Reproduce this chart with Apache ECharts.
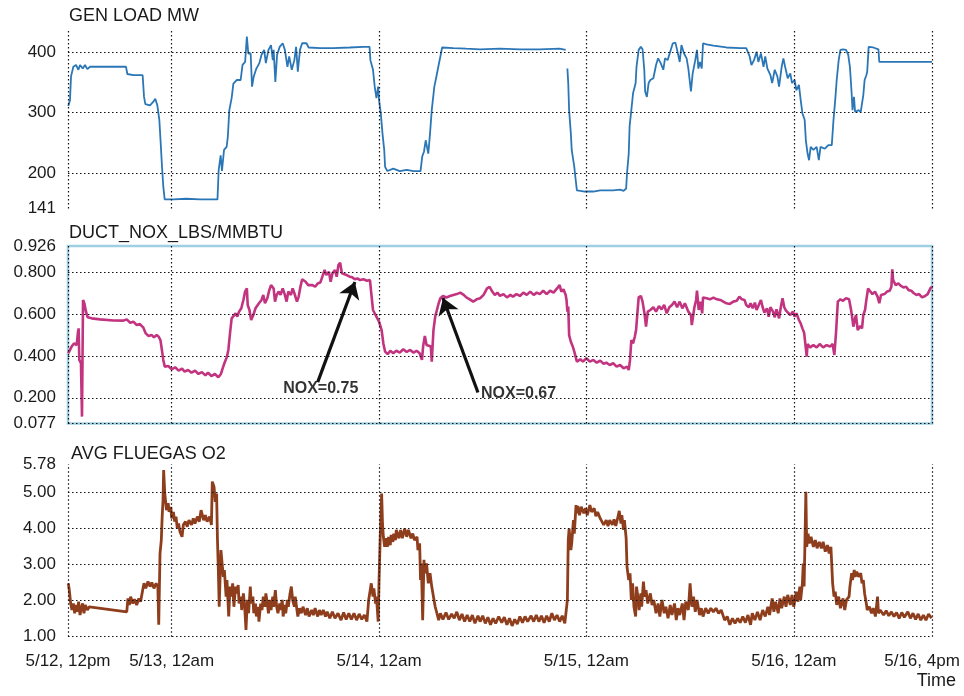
<!DOCTYPE html>
<html>
<head>
<meta charset="utf-8">
<title>Unit trend</title>
<script src="https://cdn.jsdelivr.net/npm/echarts@6/dist/echarts.min.js"></script>
<style>
  * { margin: 0; padding: 0; }
  body { background: #ffffff; }
  #main { width: 964px; height: 696px; }
</style>
</head>
<body>
<div id="main"></div>
<script>
// hours after 5/12 12pm
var tickHours = [0, 12, 36, 60, 84, 100];
var tickLabels = ['5/12, 12pm', '5/13, 12am', '5/14, 12am', '5/15, 12am', '5/16, 12am', '5/16, 4pm'];

var loadTicks = [141, 200, 300, 400];
var noxTicks = [0.077, 0.2, 0.4, 0.6, 0.8, 0.926];
var o2Ticks = [1, 2, 3, 4, 5, 5.78];

// GEN LOAD MW  [hour, MW]
var genLoad = [
  [0.04,311],[0.23,321],[0.35,360],[0.62,376],[0.93,379],[1.2,371],[1.39,379],[1.7,373],[1.97,379],[2.24,372],
  [2.55,376],[3.7,376],[5.25,376],[6.71,376],[6.87,364],[7.56,362],[8.64,362],[8.8,326],[8.95,314],[9.49,312],
  [9.88,318],[10.1,323],[10.34,312],[10.57,288],[10.73,249],[10.88,210],[11.03,177],[11.19,156],[12.19,156],[13.7,157],
  [15.3,156],[16.8,156],[17.3,156],[17.44,205],[17.67,229],[17.82,203],[18.06,238],[18.36,243],[18.5,260],[18.67,304],
  [18.94,324],[19.14,348],[19.52,354],[19.98,354],[20.2,379],[20.5,384],[20.7,426],[20.87,398],[21.14,398],[21.3,343],
  [21.5,360],[21.8,373],[22.15,382],[22.4,396],[22.7,404],[22.9,382],[23.2,404],[23.5,412],[23.7,387],[23.8,404],
  [24.0,351],[24.2,396],[24.5,409],[24.85,415],[25.1,404],[25.4,376],[25.6,393],[25.9,371],[26.2,387],[26.4,409],
  [26.6,368],[26.85,404],[27.1,415],[27.6,415],[27.85,408],[29.2,407],[30.7,407],[32.6,408],[34.2,409],[34.9,409],
  [35.0,387],[35.3,371],[35.5,343],[35.7,324],[35.9,343],[36.0,321],[36.2,299],[36.4,265],[36.6,238],[36.7,210],
  [36.96,203],[37.65,207],[38.4,203],[39.2,205],[40.0,203],[40.8,203],[41.0,227],[41.2,235],[41.4,254],[41.7,232],
  [41.9,265],[42.1,304],[42.4,343],[42.6,357],[42.9,379],[43.1,393],[43.3,408],[44.6,407],[46.1,406],[47.7,405],
  [50.0,406],[52.3,405],[54.6,405],[56.9,406],[57.6,404],[57.7,'-'],[57.8,373],[57.9,348],[58.0,304],[58.2,265],
  [58.3,238],[58.6,210],[58.7,196],[58.9,171],[59.3,170],[59.8,169],[60.0,172],[60.8,169],[61.6,171],[63.1,171],
  [63.9,172],[64.3,170],[64.6,174],[64.7,199],[64.9,232],[65.0,277],[65.2,304],[65.4,332],[65.7,349],[65.8,376],
  [66.05,404],[66.3,409],[66.5,405],[66.7,371],[66.8,335],[67.0,326],[67.2,349],[67.4,354],[67.75,357],[68.06,379],
  [68.3,390],[68.6,382],[68.9,371],[69.1,390],[69.4,387],[69.7,401],[70.0,415],[70.3,416],[70.5,404],[70.8,384],
  [71.0,412],[71.3,398],[71.6,390],[71.8,373],[72.1,335],[72.3,365],[72.6,387],[72.8,404],[72.96,373],[73.15,384],
  [73.35,373],[73.5,415],[73.9,413],[74.7,411],[76.2,408],[77.8,407],[78.5,407],[78.9,393],[79.1,379],[79.4,387],
  [79.7,401],[79.9,384],[80.2,398],[80.5,376],[80.7,393],[80.95,373],[81.3,362],[81.5,349],[81.8,371],[82.1,360],
  [82.3,343],[82.6,376],[82.8,390],[83.0,376],[83.3,357],[83.6,365],[83.8,349],[84.1,354],[84.3,337],[84.6,346],
  [84.8,321],[85.0,299],[85.26,288],[85.4,254],[85.6,232],[85.77,221],[85.96,243],[86.27,238],[86.65,243],[86.9,221],
  [87.1,243],[87.6,240],[88.0,246],[88.4,246],[88.6,288],[88.8,321],[88.97,354],[89.2,387],[89.4,404],[89.7,405],
  [90.05,404],[90.3,396],[90.5,376],[90.7,332],[90.8,304],[90.97,326],[91.1,301],[91.5,304],[91.75,301],[91.9,304],
  [92.05,329],[92.2,354],[92.4,362],[92.5,368],[92.67,409],[93.2,408],[93.8,405],[93.9,384],[95.1,384],[97.1,384],
  [100,384]
];

// DUCT_NOX_LBS/MMBTU  [hour, lb/MMBtu]
var ductNox = [
  [0.04,0.413],[0.23,0.405],[0.42,0.445],[0.69,0.46],[1.0,0.452],[1.16,0.516],[1.23,0.532],[1.31,0.381],[1.5,0.365],[1.62,0.11],
  [1.74,0.668],[1.89,0.652],[2.08,0.612],[2.28,0.585],[2.74,0.58],[3.7,0.575],[5.25,0.57],[6.4,0.569],[6.8,0.575],[7.2,0.559],
  [7.56,0.564],[7.95,0.548],[8.3,0.553],[8.7,0.537],[9.0,0.508],[9.3,0.496],[9.7,0.5],[9.95,0.489],[10.26,0.5],[10.5,0.492],
  [10.7,0.476],[10.84,0.437],[11.03,0.381],[11.2,0.349],[11.6,0.352],[12.0,0.336],[12.4,0.346],[12.8,0.33],[13.2,0.339],[13.5,0.325],
  [13.9,0.333],[14.3,0.32],[14.7,0.33],[15.1,0.314],[15.5,0.323],[15.9,0.307],[16.2,0.32],[16.6,0.304],[17.0,0.314],[17.4,0.298],
  [17.7,0.314],[17.9,0.341],[18.1,0.365],[18.4,0.397],[18.56,0.429],[18.75,0.508],[18.94,0.58],[19.1,0.588],[19.4,0.604],[19.6,0.588],
  [19.8,0.612],[20.06,0.628],[20.3,0.668],[20.5,0.708],[20.7,0.723],[20.8,0.644],[21.0,0.62],[21.2,0.572],[21.45,0.596],[21.7,0.628],
  [21.9,0.636],[22.1,0.652],[22.4,0.668],[22.6,0.692],[22.8,0.652],[23.07,0.676],[23.3,0.715],[23.5,0.739],[23.8,0.723],[23.96,0.66],
  [24.15,0.692],[24.4,0.708],[24.6,0.692],[24.85,0.723],[25.1,0.692],[25.3,0.66],[25.5,0.708],[25.8,0.692],[26.0,0.723],[26.2,0.7],
  [26.5,0.66],[26.7,0.684],[26.9,0.731],[27.1,0.767],[27.3,0.776],[27.5,0.755],[27.8,0.739],[28.0,0.731],[28.3,0.739],[28.6,0.731],
  [28.9,0.747],[29.2,0.751],[29.5,0.787],[29.7,0.811],[29.9,0.787],[30.2,0.803],[30.4,0.755],[30.6,0.795],[30.9,0.811],[31.1,0.779],
  [31.3,0.835],[31.5,0.846],[31.7,0.795],[31.9,0.803],[32.25,0.787],[32.6,0.779],[32.9,0.776],[33.2,0.767],[33.5,0.771],[33.8,0.763],
  [34.2,0.767],[34.6,0.76],[34.95,0.763],[35.1,0.7],[35.3,0.62],[35.6,0.596],[35.8,0.58],[36.0,0.564],[36.3,0.524],[36.5,0.46],
  [36.7,0.421],[37.0,0.409],[37.3,0.425],[37.65,0.413],[38.0,0.425],[38.4,0.416],[38.8,0.432],[39.2,0.419],[39.6,0.429],[40.0,0.416],
  [40.35,0.425],[40.7,0.413],[40.97,0.381],[41.1,0.445],[41.3,0.496],[41.5,0.452],[41.7,0.46],[42.0,0.445],[42.1,0.373],[42.3,0.524],
  [42.5,0.588],[42.7,0.62],[42.9,0.652],[43.1,0.676],[43.4,0.687],[43.8,0.68],[44.2,0.687],[44.6,0.692],[45.0,0.696],[45.4,0.703],
  [45.8,0.692],[46.1,0.68],[46.5,0.671],[46.9,0.66],[47.3,0.671],[47.7,0.676],[48.1,0.692],[48.5,0.723],[48.8,0.731],[49.1,0.708],
  [49.4,0.692],[49.7,0.703],[50.0,0.687],[50.4,0.696],[50.8,0.68],[51.2,0.692],[51.5,0.684],[51.9,0.696],[52.3,0.687],[52.7,0.703],
  [53.1,0.692],[53.5,0.708],[53.9,0.692],[54.25,0.703],[54.6,0.696],[55.0,0.712],[55.4,0.696],[55.8,0.712],[56.2,0.703],[56.6,0.723],
  [56.9,0.739],[57.1,0.708],[57.35,0.719],[57.6,0.692],[57.7,0.668],[57.8,0.612],[57.9,0.636],[58.0,0.5],[58.2,0.468],[58.4,0.448],
  [58.6,0.421],[58.9,0.373],[59.3,0.384],[59.6,0.373],[60.0,0.389],[60.4,0.373],[60.8,0.381],[61.2,0.368],[61.6,0.378],[62.0,0.362],
  [62.3,0.368],[62.7,0.357],[63.1,0.365],[63.5,0.349],[63.9,0.357],[64.3,0.341],[64.7,0.349],[64.9,0.333],[65.05,0.381],[65.2,0.476],
  [65.4,0.46],[65.6,0.492],[65.75,0.524],[65.9,0.604],[66.05,0.68],[66.3,0.687],[66.5,0.66],[66.75,0.596],[66.9,0.54],[67.1,0.612],
  [67.4,0.62],[67.75,0.633],[68.06,0.612],[68.4,0.639],[68.7,0.623],[69.0,0.644],[69.3,0.604],[69.6,0.633],[69.9,0.644],[70.2,0.66],
  [70.5,0.633],[70.8,0.66],[71.1,0.628],[71.4,0.652],[71.8,0.612],[72.1,0.596],[72.2,0.548],[72.5,0.633],[72.7,0.668],[72.8,0.712],
  [73.0,0.62],[73.2,0.66],[73.4,0.604],[73.5,0.68],[73.9,0.676],[74.3,0.671],[74.7,0.679],[75.1,0.671],[75.5,0.668],[75.85,0.66],
  [76.2,0.652],[76.6,0.649],[77.0,0.66],[77.4,0.664],[77.7,0.684],[78.0,0.671],[78.3,0.668],[78.5,0.644],[78.8,0.633],[79.0,0.652],
  [79.25,0.628],[79.5,0.655],[79.7,0.62],[80.0,0.649],[80.2,0.668],[80.4,0.633],[80.6,0.607],[80.9,0.628],[81.1,0.588],[81.3,0.633],
  [81.6,0.612],[81.8,0.585],[82.0,0.623],[82.3,0.58],[82.5,0.633],[82.7,0.676],[82.9,0.633],[83.1,0.617],[83.3,0.623],[83.6,0.596],
  [83.9,0.612],[84.1,0.588],[84.3,0.604],[84.6,0.572],[84.8,0.556],[85.0,0.532],[85.2,0.511],[85.35,0.508],[85.5,0.397],[85.6,0.457],
  [85.9,0.441],[86.27,0.452],[86.65,0.441],[87.0,0.457],[87.4,0.441],[87.8,0.452],[88.2,0.445],[88.5,0.457],[88.7,0.405],[88.9,0.516],
  [89.1,0.66],[89.4,0.671],[89.7,0.664],[90.05,0.676],[90.4,0.671],[90.6,0.628],[90.75,0.588],[90.9,0.54],[91.05,0.572],[91.2,0.596],
  [91.4,0.524],[91.7,0.543],[91.9,0.532],[92.05,0.596],[92.25,0.62],[92.4,0.668],[92.6,0.723],[92.8,0.712],[93.1,0.696],[93.4,0.708],
  [93.7,0.684],[93.9,0.652],[94.1,0.692],[94.5,0.696],[94.8,0.708],[95.1,0.712],[95.3,0.731],[95.4,0.814],[95.5,0.763],[95.8,0.739],
  [96.1,0.747],[96.4,0.735],[96.7,0.728],[97.0,0.731],[97.3,0.715],[97.6,0.712],[97.9,0.7],[98.2,0.692],[98.5,0.696],[98.85,0.68],
  [99.2,0.687],[99.5,0.696],[99.8,0.723],[100,0.731]
];

// AVG FLUEGAS O2  [hour, %]
var fluegasO2 = [
  [0.04,2.48],[0.15,2.29],[0.31,1.92],[0.46,1.74],[0.62,1.92],[0.77,1.65],[0.93,1.88],[1.08,1.69],[1.23,1.97],[1.39,1.6],
  [1.54,1.79],[1.7,1.92],[1.85,1.65],[2.0,1.88],[2.24,1.74],[2.47,1.83],[6.8,1.69],[6.94,2.06],[7.1,1.88],[7.25,2.11],
  [7.5,1.92],[7.7,2.04],[7.95,1.88],[8.2,2.06],[8.4,1.97],[8.64,2.29],[8.8,2.48],[9.0,2.34],[9.26,2.53],[9.5,2.39],
  [9.7,2.5],[9.95,2.34],[10.2,2.48],[10.4,2.39],[10.5,1.33],[10.65,3.31],[10.8,3.68],[10.9,4.33],[11.0,4.79],[11.07,5.62],
  [11.2,4.97],[11.3,4.74],[11.4,4.51],[11.6,4.7],[11.7,4.46],[11.9,4.6],[12.0,4.28],[12.2,4.46],[12.35,4.19],[12.5,4.33],
  [12.65,4.0],[12.8,4.14],[12.96,3.91],[13.2,3.77],[13.35,4.1],[13.6,4.19],[13.8,4.05],[14.0,4.23],[14.3,4.1],[14.5,4.28],
  [14.7,4.14],[14.97,4.33],[15.2,4.19],[15.4,4.51],[15.7,4.23],[15.9,4.37],[16.1,4.19],[16.4,4.33],[16.6,4.1],[16.7,5.3],
  [16.9,5.16],[17.05,4.74],[17.2,4.97],[17.3,3.68],[17.4,2.85],[17.5,1.83],[17.7,3.4],[17.8,3.13],[17.98,2.66],[18.1,2.85],
  [18.3,2.11],[18.4,2.57],[18.6,1.56],[18.75,2.39],[18.9,2.11],[19.06,2.48],[19.2,1.83],[19.4,2.39],[19.5,2.2],[19.7,2.43],
  [19.8,1.92],[20.0,2.11],[20.1,1.74],[20.3,2.2],[20.45,1.83],[20.6,1.19],[20.76,2.02],[20.9,1.65],[21.1,2.39],[21.2,1.92],
  [21.4,2.11],[21.5,1.65],[21.7,1.92],[21.8,1.56],[22.0,1.83],[22.1,1.42],[22.3,1.92],[22.45,1.74],[22.6,2.11],[22.8,1.83],
  [22.9,2.2],[23.07,1.92],[23.2,1.65],[23.4,2.02],[23.5,1.74],[23.7,2.11],[23.8,1.83],[24.0,2.29],[24.15,1.83],[24.3,1.65],
  [24.5,1.92],[24.6,1.74],[24.8,2.02],[24.9,1.56],[25.1,1.88],[25.2,1.65],[25.4,2.02],[25.5,1.83],[25.7,2.2],[25.85,2.39],
  [26.0,2.02],[26.2,1.83],[26.3,2.11],[26.5,1.74],[26.6,1.56],[26.8,1.79],[27.0,1.65],[27.2,1.83],[27.5,1.6],[27.7,1.79],
  [27.9,1.56],[28.2,1.74],[28.4,1.6],[28.6,1.79],[28.9,1.56],[29.1,1.74],[29.3,1.6],[29.55,1.74],[29.8,1.56],[30.0,1.69],
  [30.3,1.51],[30.6,1.69],[30.9,1.51],[31.25,1.65],[31.6,1.46],[31.9,1.67],[32.2,1.48],[32.5,1.65],[32.8,1.48],[33.1,1.65],
  [33.4,1.46],[33.7,1.63],[34.0,1.48],[34.3,1.6],[34.6,1.42],[34.8,2.02],[34.95,2.25],[35.1,2.48],[35.3,2.11],[35.4,2.34],
  [35.6,1.92],[35.7,2.11],[35.9,1.42],[36.0,2.57],[36.15,3.86],[36.3,4.97],[36.4,4.14],[36.5,3.77],[36.65,3.49],[36.8,3.73],
  [36.96,3.49],[37.1,3.77],[37.3,3.54],[37.4,3.82],[37.6,3.63],[37.7,3.86],[37.9,3.68],[38.0,3.96],[38.3,3.73],[38.5,3.96],
  [38.7,3.73],[38.97,4.0],[39.2,3.77],[39.4,3.96],[39.7,3.73],[39.9,3.86],[40.1,3.68],[40.4,3.77],[40.5,3.4],[40.7,3.59],
  [40.8,2.57],[40.9,3.03],[41.05,1.46],[41.2,3.13],[41.3,2.76],[41.5,3.03],[41.7,2.48],[41.9,2.76],[42.1,2.39],[42.3,2.11],
  [42.5,1.83],[42.7,1.65],[42.9,1.46],[43.1,1.65],[43.4,1.48],[43.75,1.67],[44.06,1.48],[44.4,1.63],[44.7,1.51],[45.0,1.69],
  [45.3,1.46],[45.6,1.63],[45.9,1.42],[46.2,1.6],[46.5,1.42],[46.8,1.6],[47.1,1.37],[47.45,1.58],[47.7,1.42],[48.0,1.58],
  [48.3,1.37],[48.6,1.54],[48.9,1.33],[49.2,1.51],[49.5,1.37],[49.85,1.56],[50.2,1.39],[50.5,1.54],[50.8,1.33],[51.1,1.51],
  [51.4,1.3],[51.7,1.48],[52.0,1.35],[52.3,1.56],[52.6,1.39],[52.9,1.56],[53.2,1.42],[53.6,1.58],[53.9,1.42],[54.2,1.6],
  [54.5,1.42],[54.8,1.58],[55.1,1.39],[55.4,1.58],[55.7,1.42],[56.0,1.65],[56.3,1.46],[56.6,1.6],[56.9,1.42],[57.2,1.58],
  [57.5,1.37],[57.8,2.02],[57.9,3.68],[58.0,4.0],[58.2,3.4],[58.3,3.59],[58.5,4.23],[58.6,3.86],[58.8,4.65],[58.9,4.42],
  [59.0,4.62],[59.2,4.37],[59.4,4.6],[59.7,4.42],[59.9,4.56],[60.1,4.37],[60.4,4.65],[60.6,4.46],[60.9,4.56],[61.1,4.34],
  [61.3,4.46],[61.6,4.28],[61.8,4.23],[62.0,4.1],[62.3,4.23],[62.5,4.07],[62.7,4.23],[63.0,4.1],[63.2,4.25],[63.4,4.07],
  [63.7,4.37],[63.8,4.49],[64.0,4.14],[64.1,4.37],[64.3,3.96],[64.4,4.23],[64.6,3.73],[64.7,2.94],[64.9,2.57],[65.05,2.76],
  [65.2,2.02],[65.35,2.48],[65.5,1.83],[65.7,1.56],[65.8,2.39],[66.0,2.02],[66.1,1.74],[66.3,2.2],[66.4,1.83],[66.6,2.53],
  [66.75,2.11],[66.9,2.29],[67.1,1.92],[67.4,2.2],[67.6,1.88],[67.8,2.02],[68.06,1.65],[68.3,1.92],[68.5,1.56],[68.75,2.02],
  [69.0,1.65],[69.2,1.83],[69.45,1.51],[69.7,1.88],[69.9,1.6],[70.2,1.92],[70.4,1.46],[70.6,1.79],[70.8,1.6],[71.1,1.92],
  [71.3,1.46],[71.5,1.97],[71.8,1.74],[72.0,2.48],[72.2,1.83],[72.4,2.11],[72.6,1.69],[72.8,2.02],[73.1,1.6],[73.3,1.79],
  [73.5,1.56],[73.8,1.79],[74.1,1.65],[74.4,1.79],[74.7,1.69],[75.0,1.79],[75.3,1.65],[75.6,1.74],[76.0,1.46],[76.3,1.56],
  [76.6,1.33],[76.9,1.51],[77.2,1.37],[77.5,1.51],[77.8,1.39],[78.1,1.56],[78.4,1.39],[78.7,1.6],[79.0,1.33],[79.2,1.65],
  [79.5,1.46],[79.8,1.69],[80.1,1.46],[80.4,1.74],[80.7,1.56],[81.0,1.83],[81.2,1.6],[81.5,2.06],[81.7,1.69],[81.9,1.97],
  [82.2,1.65],[82.4,2.06],[82.6,1.79],[82.9,2.11],[83.1,1.83],[83.3,2.16],[83.6,1.88],[83.8,2.16],[84.0,1.83],[84.3,2.25],
  [84.5,1.97],[84.7,2.39],[84.8,2.02],[85.0,2.48],[85.1,3.03],[85.2,2.39],[85.3,3.68],[85.4,5.02],[85.5,3.49],[85.66,3.86],
  [85.8,3.59],[86.0,3.77],[86.27,3.49],[86.5,3.68],[86.7,3.45],[86.95,3.63],[87.2,3.45],[87.4,3.63],[87.65,3.36],[87.9,3.54],
  [88.1,3.31],[88.3,3.49],[88.5,2.48],[88.66,2.11],[88.8,2.25],[88.97,1.88],[89.2,2.11],[89.4,1.79],[89.7,2.06],[89.9,1.74],
  [90.1,2.02],[90.4,2.11],[90.5,2.39],[90.7,2.76],[90.8,2.57],[91.0,2.85],[91.1,2.66],[91.3,2.8],[91.5,2.66],[91.75,2.76],
  [91.9,2.48],[92.05,2.57],[92.2,2.2],[92.4,1.92],[92.5,1.74],[92.75,1.83],[93.0,1.65],[93.2,1.79],[93.45,1.56],[93.7,2.11],
  [93.8,1.65],[94.0,1.74],[94.4,1.6],[94.7,1.72],[95.0,1.58],[95.3,1.69],[95.6,1.56],[95.9,1.67],[96.2,1.51],[96.5,1.67],
  [96.8,1.54],[97.2,1.69],[97.5,1.51],[97.8,1.65],[98.1,1.48],[98.4,1.63],[98.7,1.46],[99.0,1.6],[99.3,1.46],[99.6,1.63],
  [99.95,1.51]
];

// annotations on the NOx panel
var arrowTails = [[28.9, 0.275], [47.45, 0.225]];
var arrowTips = [[33.2, 0.754], [43.4, 0.677]];
var noteTexts = ['NOX=0.75', 'NOX=0.67'];
var noteAt = [[24.9, 0.246], [47.8, 0.222]];

var FONT = '"Liberation Sans", Arial, sans-serif';
var dotted = { type: [1.5, 2.5], color: '#111', width: 1.2 };

function gridLines(yVals) {
  var d = tickHours.map(function (h) { return { xAxis: h }; });
  yVals.forEach(function (v) { d.push({ yAxis: v }); });
  return { silent: true, symbol: 'none', animation: false, label: { show: false }, lineStyle: dotted, data: d };
}

function yAxisFor(idx, min, max, ticks, digits) {
  return {
    type: 'value', gridIndex: idx, min: min, max: max,
    axisLine: { show: false }, axisTick: { show: false }, splitLine: { show: false },
    axisLabel: {
      customValues: ticks, margin: 12, fontSize: 17, color: '#1a1a1a', fontFamily: FONT,
      formatter: function (v) { return digits ? v.toFixed(digits) : String(Math.round(v)); }
    }
  };
}

function xAxisFor(idx, showLabels) {
  return {
    type: 'value', gridIndex: idx, min: 0, max: 100,
    axisLine: { show: false }, axisTick: { show: false }, splitLine: { show: false },
    axisLabel: {
      show: showLabels, customValues: tickHours, margin: 16, fontSize: 17, color: '#1a1a1a', fontFamily: FONT,
      formatter: function (v) {
        var i = tickHours.indexOf(v);
        var s = i >= 0 ? tickLabels[i] : '';
        return i === tickHours.length - 1 ? '{r|' + s + '}' : s;
      },
      rich: { r: { padding: [0, 20, 0, 0], fontSize: 17, color: '#1a1a1a', fontFamily: FONT } }
    }
  };
}

var titleStyle = { fontSize: 18, fontWeight: 'normal', color: '#1a1a1a', fontFamily: FONT };

var chart = echarts.init(document.getElementById('main'), null, { renderer: 'canvas' });
chart.setOption({
  animation: false,
  backgroundColor: '#ffffff',
  title: [
    { text: 'GEN LOAD MW', left: 69, top: 7, padding: 0, textStyle: titleStyle },
    { text: 'DUCT_NOX_LBS/MMBTU', left: 69, top: 224, padding: 0, textStyle: titleStyle },
    { text: 'AVG FLUEGAS O2', left: 71, top: 445, padding: 0, textStyle: titleStyle },
    { text: 'Time', right: 8, top: 672, padding: 0, textStyle: titleStyle }
  ],
  grid: [
    { left: 68, right: 32, top: 30, height: 178.4 },
    { left: 68, right: 32, top: 246, height: 177.5, show: true, borderColor: '#9fd0e2', borderWidth: 2.5, backgroundColor: 'transparent' },
    { left: 68, right: 32, top: 464.3, height: 172.4 }
  ],
  xAxis: [xAxisFor(0, false), xAxisFor(1, false), xAxisFor(2, true)],
  yAxis: [
    yAxisFor(0, 141, 437, loadTicks, 0),
    yAxisFor(1, 0.077, 0.926, noxTicks, 3),
    yAxisFor(2, 1, 5.78, o2Ticks, 2)
  ],
  series: [
    {
      name: 'GEN LOAD MW', type: 'line', xAxisIndex: 0, yAxisIndex: 0, data: genLoad,
      showSymbol: false, lineStyle: { color: '#2b76b6', width: 1.8 },
      markLine: gridLines([200, 300, 400])
    },
    {
      name: 'DUCT_NOX_LBS/MMBTU', type: 'line', xAxisIndex: 1, yAxisIndex: 1, data: ductNox,
      showSymbol: false, lineStyle: { color: '#c2347f', width: 2.6 },
      markLine: gridLines(noxTicks)
    },
    {
      name: 'AVG FLUEGAS O2', type: 'line', xAxisIndex: 2, yAxisIndex: 2, data: fluegasO2,
      showSymbol: false, lineStyle: { color: '#8e3e1c', width: 2.8 },
      markLine: gridLines([1, 2, 3, 4, 5])
    },
    {
      type: 'lines', coordinateSystem: 'cartesian2d', xAxisIndex: 1, yAxisIndex: 1, z: 5,
      symbol: ['none', 'arrow'], symbolSize: [1, 16],
      lineStyle: { color: '#111', width: 3.2, opacity: 1 },
      data: arrowTails.map(function (t, i) { return { coords: [t, arrowTips[i]] }; })
    },
    {
      type: 'scatter', xAxisIndex: 1, yAxisIndex: 1, symbolSize: 0, z: 6,
      data: noteAt.map(function (p, i) { return { value: p, name: noteTexts[i] }; }),
      label: {
        show: true, position: 'right', distance: 0,
        formatter: function (p) { return p.name; },
        fontSize: 16, fontWeight: 'bold', color: '#000', fontFamily: FONT
      }
    }
  ]
});
</script>
</body>
</html>
